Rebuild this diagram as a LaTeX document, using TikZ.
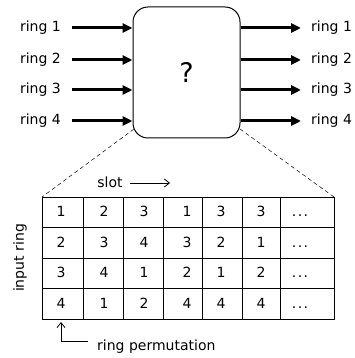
\documentclass[tikz,border=0pt]{standalone}
\usepackage{fontspec}
\setmainfont{DejaVu Sans}
\usetikzlibrary{arrows.meta}
\begin{document}
\begin{tikzpicture}[x=1pt,y=-1pt,
  lbl/.style={font=\fontsize{14}{16}\selectfont, inner sep=0pt},
  cell/.style={font=\fontsize{14}{16}\selectfont, inner sep=0pt, text height=10.2pt, text depth=0pt},
  ringarrow/.style={line width=3pt, -{Triangle[length=10pt,width=9pt]}},
  thinarrow/.style={line width=0.8pt, -{Straight Barb[length=5pt,width=8pt]}},
  grid/.style={line width=1pt},
  guide/.style={line width=0.5pt, dash pattern=on 4pt off 3pt}]
\useasboundingbox (0,0) rectangle (355,358);

% central block
\node[draw, line width=1pt, rounded corners=15pt, minimum width=107pt,
      minimum height=131pt, inner sep=0pt] (box) at (186.5,72.5) {};
\node[font=\fontsize{27}{30}\selectfont, inner sep=0pt] (q) at (box.center) {?};

% input and output rings
\foreach \i/\y in {1/28,2/60,3/90,4/121} {
  \node[lbl, anchor=east] (in\i) at (61,\y) {ring \i};
  \node[lbl, anchor=west] (out\i) at (311,\y) {ring \i};
  \coordinate (bl\i) at (box.west |- 0,\y);
  \coordinate (br\i) at (box.east |- 0,\y);
  \draw[ringarrow] (72,\y) -- (bl\i);
  \draw[ringarrow] (br\i) -- (301,\y);
}

% permutation table
\coordinate (tl) at (42,197);
\coordinate (tr) at (334,197);
\draw[grid] (42,197) rectangle (334,319);
\foreach \y in {227,258,288} \draw[grid] (42,\y) -- (334,\y);
\foreach \x in {83,123,163,202,242,280} \draw[grid] (\x,197) -- (\x,319);

\foreach \row [count=\r] in {{1,2,3,1,3,3},{2,3,4,3,2,1},{3,4,1,2,1,2},{4,1,2,4,4,4}} {
  \pgfmathsetmacro{\yy}{{211.5,242,272.5,303.5}[\r-1]}
  \foreach \v [count=\c] in \row {
    \pgfmathsetmacro{\xx}{{61,104,144,187,221,261}[\c-1]}
    \node[cell] (c\r\c) at (\xx,\yy) {\v};
  }
  \node[cell] (d\r) at (300,\yy) {.\hspace{1.5pt}.\hspace{1.5pt}.};
}

% zoom guides from the block to the table
\coordinate (gl) at (134,129);
\coordinate (gr) at (240,129);
\draw[guide] (gl) -- (tl);
\draw[guide] (gr) -- (tr);

% axis labels
\node[lbl] (slot) at (110,182) {slot};
\coordinate (s0) at (130,183);
\coordinate (s1) at (170,183);
\draw[thinarrow] (s0) -- (s1);

\node[lbl, rotate=90] (inring) at (20,258) {input ring};

\node[lbl, anchor=west] (perm) at (97,347) {ring permutation};
\coordinate (p0) at (88,341);
\coordinate (p1) at (61,341);
\coordinate (p2) at (61,322);
\draw[thinarrow] (p0) -- (p1) -- (p2);
\end{tikzpicture}
\end{document}
